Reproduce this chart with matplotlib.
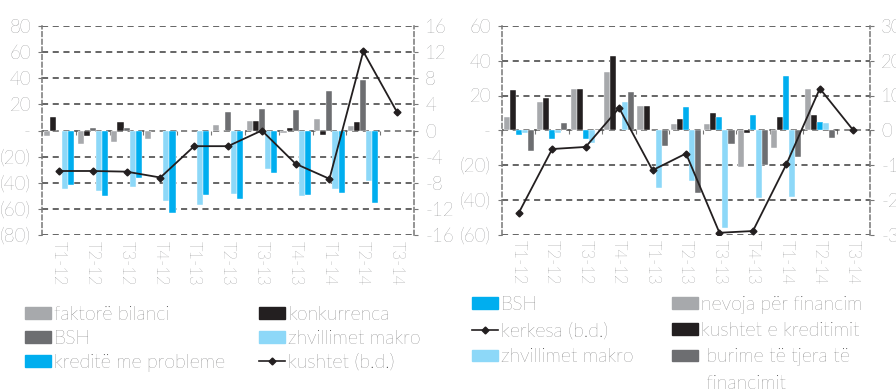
import numpy as np
import matplotlib.pyplot as plt
from matplotlib.patches import Patch
from matplotlib.lines import Line2D
from matplotlib.ticker import FuncFormatter, MultipleLocator

plt.rcParams['font.family'] = ['Lato', 'DejaVu Sans']
plt.rcParams['font.weight'] = 'light'

cats = ['T1-12', 'T2-12', 'T3-12', 'T4-12', 'T1-13', 'T2-13',
        'T3-13', 'T4-13', 'T1-14', 'T2-14', 'T3-14']

# left panel: factors behind lending standards
faktore = [-4, -10.5, -9, -6.7, 0, 4, 7.2, -1.8, 8.7, 3.3, 0]
konkurrenca = [10, -4.4, 6.4, 0, 0, 0, 7.2, 1.8, -3.3, 6.4, 0]
bsh_l = [0, 2, 2, 0, 0, 14, 16.4, 15.6, 30.3, 38.7, 0]
makro_l = [-45, -46, -43, -53.6, -56.7, -48.5, -29.7, -50, -44.9, -39, 0]
kredite = [-42, -50.5, -36, -63, -49, -52.6, -32.6, -49.5, -48, -55.6, 0]
kushtet = [-6.2, -6.2, -6.3, -7.2, -2.4, -2.4, 0, -5.1, -7.4, 12.1, 2.8]

# right panel: factors behind loan demand
nevoja = [7.5, 16.2, 23.8, 33.3, 13.7, 3.7, 3.7, -21, -10.2, 23.8, 0]
kushtet_kred = [23.3, 18.7, 23.5, 42.5, 14.2, 6.2, 10, -1.5, 7.9, 9, 0]
bsh_r = [-3, -5, -5, 0, 0, 13.3, 7.9, 8.5, 31, 4.8, 0]
makro_r = [-1.5, -1.7, -7.5, 16.5, -33, -29.4, -56.5, -39.2, -38.7, 4.4, 0]
burime = [-12, 4, 1, 22.3, -8.8, -36.2, -7.9, -20, -15.2, -4.4, 0]
kerkesa = [-23.8, -5.4, -4.8, 6.4, -11.5, -6.7, -29.5, -29, -9.8, 12, 0]

LGRAY = '#A7A9AC'
BLACK = '#231F20'
DGRAY = '#6D6E71'
LBLUE = '#8DD8F8'
BLUE = '#00AEEF'
TXT = '#58595B'
GRID = '#3c3c3c'


def paren_fmt(v, pos):
    if abs(v) < 1e-9:
        return '-'
    return f'({abs(v):.0f})' if v < 0 else f'{v:.0f}'


def plain_fmt(v, pos):
    return f'{v:.0f}'


def draw_panel(ax, series, line, lim, step, lim2, step2):
    x = np.arange(len(cats))
    w = 0.18
    for k, (vals, col) in enumerate(series):
        ax.bar(x + (k - 2) * w, vals, w, color=col, edgecolor='white',
               linewidth=0.3, zorder=2)
    ax.set_xlim(-0.5, len(cats) - 0.5)
    ax.set_ylim(-lim, lim)
    ax.yaxis.set_major_locator(MultipleLocator(step))
    ax.yaxis.set_major_formatter(FuncFormatter(paren_fmt))
    ax.set_xticks(x)
    ax.set_xticklabels(cats, rotation=-90, ha='center', va='top')
    ax.tick_params(axis='x', length=0, pad=4, labelsize=12, labelcolor=TXT)
    ax.tick_params(axis='y', length=3, color='#777777', pad=5,
                   labelsize=13.5, labelcolor=TXT)
    ax.set_axisbelow(True)
    ax.grid(axis='y', color=GRID, linestyle=(0, (4, 3)), linewidth=1.1)
    for s in ('top', 'bottom'):
        ax.spines[s].set_visible(False)
    for s in ('left', 'right'):
        ax.spines[s].set_linestyle((0, (3, 2)))
        ax.spines[s].set_color('#777777')
        ax.spines[s].set_linewidth(1.1)

    # small category ticks along the zero line
    sec = ax.secondary_xaxis(0.5)
    sec.set_alignment('bottom')
    sec.set_xticks(np.arange(-0.5, len(cats), 1))
    sec.tick_params(axis='x', length=3, color='#777777', labelbottom=False,
                    labeltop=False)
    for s in sec.spines.values():
        s.set_visible(False)

    ax2 = ax.twinx()
    ax2.plot(x, line, color=BLACK, linewidth=1.3, marker='D', markersize=3.5,
             zorder=3)
    ax2.set_ylim(-lim2, lim2)
    ax2.yaxis.set_major_locator(MultipleLocator(step2))
    ax2.yaxis.set_major_formatter(FuncFormatter(plain_fmt))
    ax2.tick_params(axis='y', length=3, color='#777777', pad=5,
                    labelsize=13.5, labelcolor=TXT)
    for s in ax2.spines.values():
        s.set_visible(False)
    return ax2


fig = plt.figure(figsize=(8.96, 3.92), dpi=100)
ax1 = fig.add_axes([42 / 896, 157 / 392, 372 / 896, 209 / 392])
ax3 = fig.add_axes([502 / 896, 157.5 / 392, 368 / 896, 208.5 / 392])

draw_panel(ax1, [(faktore, LGRAY), (konkurrenca, BLACK), (bsh_l, DGRAY),
                 (makro_l, LBLUE), (kredite, BLUE)],
           kushtet, 80, 20, 16, 4)
draw_panel(ax3, [(nevoja, LGRAY), (kushtet_kred, BLACK), (bsh_r, BLUE),
                 (makro_r, LBLUE), (burime, DGRAY)],
           kerkesa, 60, 20, 30, 10)


def line_handle():
    return Line2D([], [], color=BLACK, linewidth=1.2, marker='D',
                  markersize=3.5)


def add_legend(handles, labels, xpx, ypx, spacing):
    leg = fig.legend(handles, labels, loc='upper left',
                     bbox_to_anchor=(xpx / 896, 1 - ypx / 392),
                     frameon=False, fontsize=14, handlelength=1.35,
                     handleheight=0.55, handletextpad=0.15,
                     labelspacing=spacing, borderpad=0, borderaxespad=0)
    for t in leg.get_texts():
        t.set_color('#404041')
    return leg


add_legend([Patch(color=LGRAY), Patch(color=DGRAY), Patch(color=BLUE)],
           ['faktorë bilanci', 'BSH', 'kreditë me probleme'], 25, 306, 0.3)
add_legend([Patch(color=BLACK), Patch(color=LBLUE), line_handle()],
           ['konkurrenca', 'zhvillimet makro', 'kushtet (b.d.)'], 259, 306, 0.3)
add_legend([Patch(color=BLUE), line_handle(), Patch(color=LBLUE)],
           ['BSH', 'kerkesa (b.d.)', 'zhvillimet makro'], 472, 296, 0.42)
add_legend([Patch(color=LGRAY), Patch(color=BLACK), Patch(color=DGRAY),
            Patch(facecolor='none', edgecolor='none')],
           ['nevoja për financim', 'kushtet e kreditimit',
            ' burime të tjera të', ' financimit'], 672, 296, 0.42)

fig.savefig('out.png', dpi=100)
